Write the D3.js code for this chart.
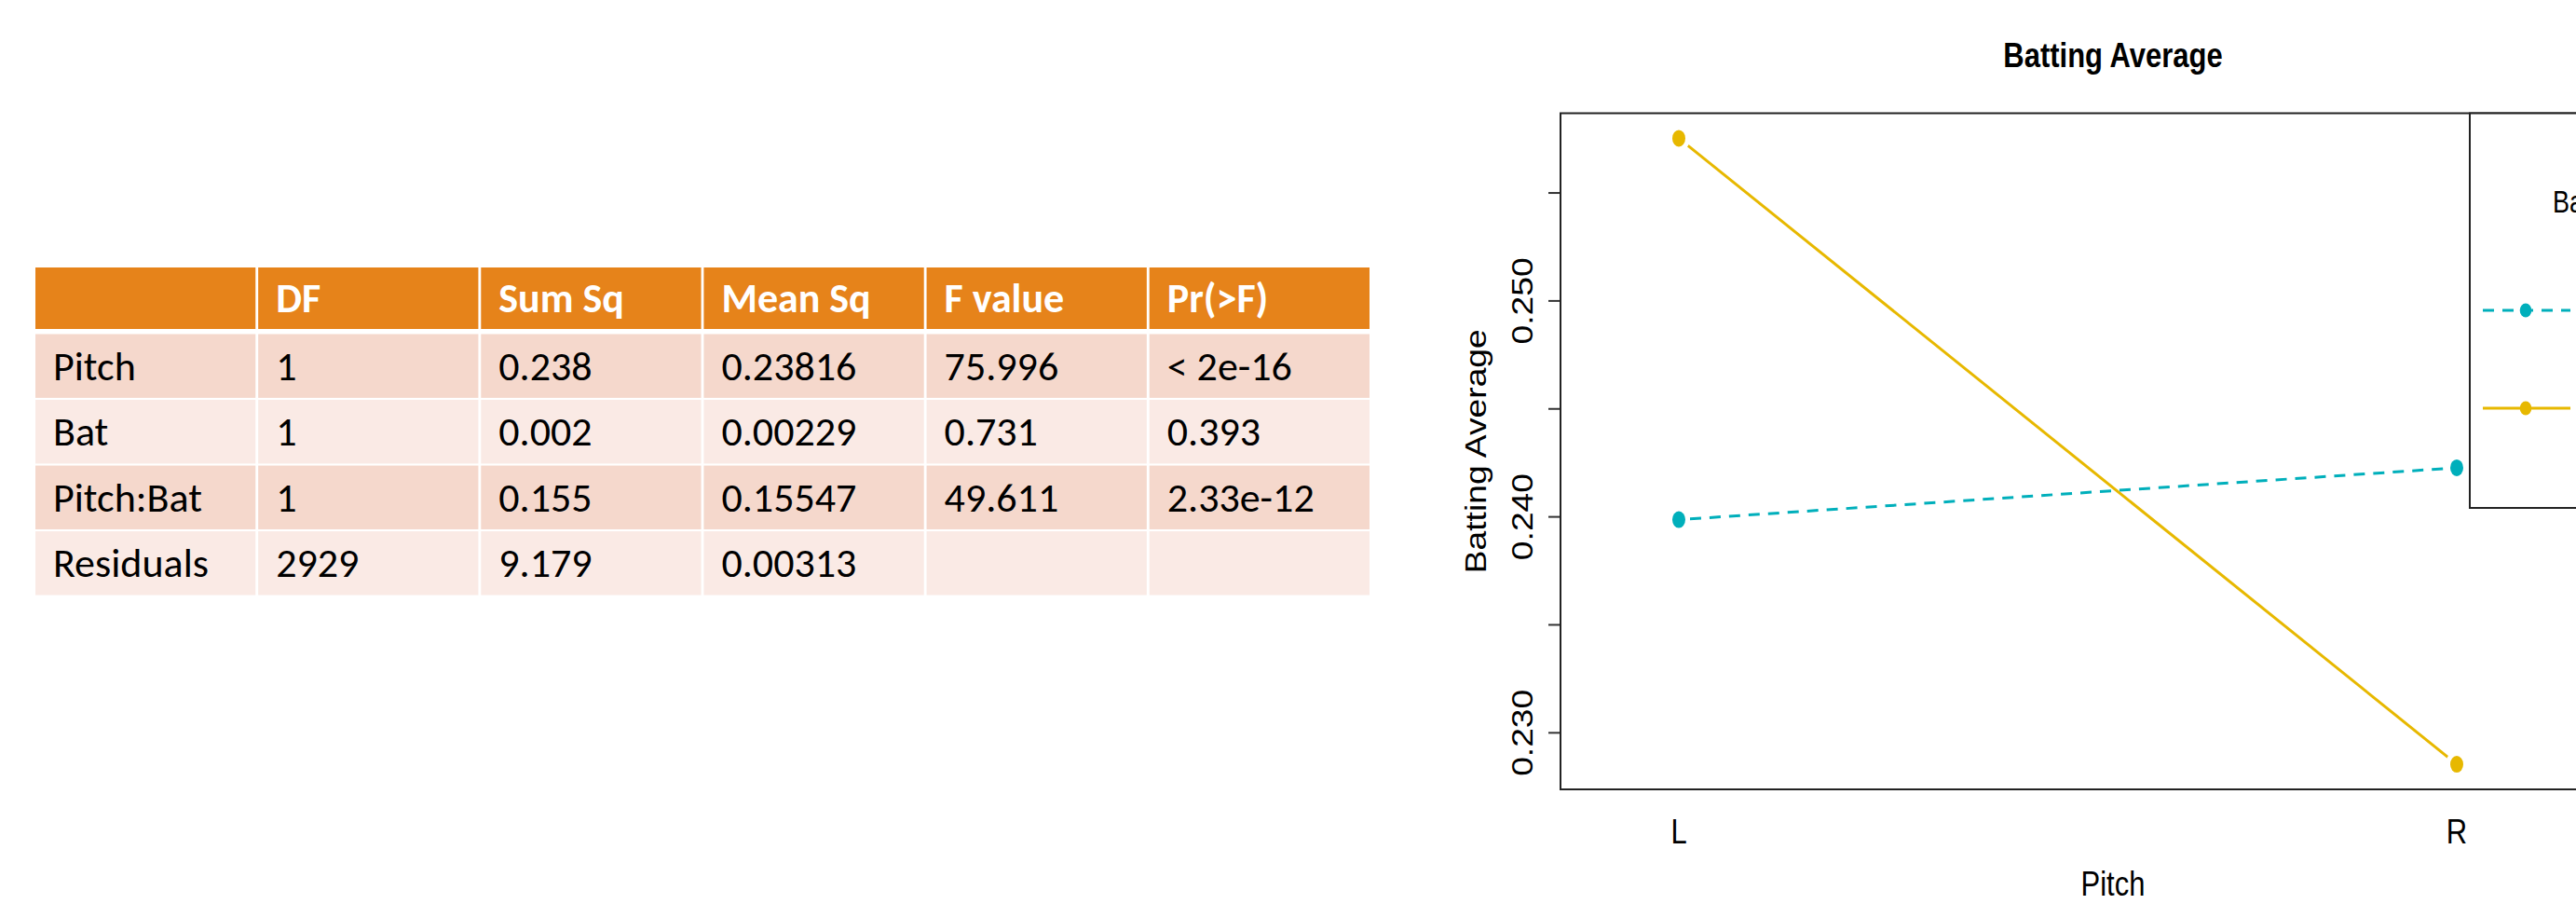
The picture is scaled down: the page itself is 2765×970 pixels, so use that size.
<!DOCTYPE html>
<html>
<head>
<meta charset="utf-8">
<script src="https://cdn.jsdelivr.net/npm/d3@7"></script>
<style>
  html, body { margin: 0; padding: 0; background: #fff; }
  svg { display: block; }
</style>
</head>
<body>
<svg id="chart"></svg>
<script>
var width = 2765;
var height = 970;

// anova table
var columns = ["", "DF", "Sum Sq", "Mean Sq", "F value", "Pr(>F)"];
var terms = ["Pitch", "Bat", "Pitch:Bat", "Residuals"];
var dfValues = ["1", "1", "1", "2929"];
var sumSq = ["0.238", "0.002", "0.155", "9.179"];
var meanSq = ["0.23816", "0.00229", "0.15547", "0.00313"];
var fValues = ["75.996", "0.731", "49.611", ""];
var pValues = ["< 2e-16", "0.393", "2.33e-12", ""];

// interaction plot (mean batting average by pitcher hand, one trace per batter hand)
var pitchLevels = ["L", "R"];
var batLevels = ["L", "R"];
var batL = [0.23985, 0.24225];
var batR = [0.25751, 0.22852];
var yTicks = [0.230, 0.235, 0.240, 0.245, 0.250, 0.255];
var yTickLabels = ["0.230", "", "0.240", "", "0.250", ""];

var traceColors = ["#00AFBB", "#E7B800"];
var traceDash = ["12,9", null];

var tableFont = "Carlito, Calibri, 'Liberation Sans Narrow', 'Open Sans', sans-serif";
var plotFont = "'Liberation Sans', Arial, Helvetica, sans-serif";

var svg = d3.select("#chart")
    .attr("width", width)
    .attr("height", height);

svg.append("rect")
    .attr("width", width)
    .attr("height", height)
    .attr("fill", "#fff");

// ---------- table ----------
var rows = terms.map(function(t, i) {
  return [t, dfValues[i], sumSq[i], meanSq[i], fValues[i], pValues[i]];
});

var colScale = d3.scaleBand()
    .domain(d3.range(columns.length))
    .range([38, 1470])
    .paddingInner(0.012);

var rowScale = d3.scaleBand()
    .domain(d3.range(terms.length))
    .range([358.5, 638.5])
    .paddingInner(0.03);

var headerTop = 287, headerBottom = 353;
var textPad = 19;

var table = svg.append("g").attr("class", "anova");

var header = table.append("g");
header.selectAll("rect")
  .data(columns)
  .enter()
  .append("rect")
    .attr("x", (d, i) => colScale(i))
    .attr("y", headerTop)
    .attr("width", colScale.bandwidth())
    .attr("height", headerBottom - headerTop)
    .attr("fill", "#E6831A");

header.selectAll("text")
  .data(columns)
  .enter()
  .append("text")
    .attr("x", (d, i) => colScale(i) + textPad)
    .attr("y", (headerTop + headerBottom) / 2 + 15)
    .style("font-family", tableFont)
    .style("font-size", "44px")
    .style("font-weight", "bold")
    .attr("fill", "#fff")
    .text(d => d);

var body = table.selectAll("g.row")
  .data(rows)
  .enter()
  .append("g")
    .attr("class", "row")
    .attr("transform", (d, i) => "translate(0," + rowScale(i) + ")");

body.selectAll("rect")
  .data((d, i) => d.map(v => ({v: v, r: i})))
  .enter()
  .append("rect")
    .attr("x", (d, j) => colScale(j))
    .attr("width", colScale.bandwidth())
    .attr("height", rowScale.bandwidth())
    .attr("fill", d => d.r % 2 === 0 ? "#F5D8CC" : "#FAEAE5");

body.selectAll("text")
  .data(d => d)
  .enter()
  .append("text")
    .attr("x", (d, j) => colScale(j) + textPad)
    .attr("y", rowScale.bandwidth() / 2 + 15)
    .style("font-family", tableFont)
    .style("font-size", "44px")
    .attr("fill", "#000")
    .text(d => d);

// ---------- interaction plot ----------
var x = d3.scaleLinear()
    .domain([1, 2])
    .range([1802, 2637]);

var y = d3.scaleLinear()
    .domain([0.22736, 0.25867])
    .range([847, 121.5]);

var plotLeft = 1675, plotRight = 2990;
var stretch = 1.2;   // the picture is squeezed a bit vertically

var plot = svg.append("g").attr("class", "plot");

// y axis ticks
var yAxis = d3.axisLeft(y)
    .tickValues(yTicks)
    .tickSize(13)
    .tickSizeOuter(0)
    .tickFormat((d, i) => yTickLabels[i]);

var yg = plot.append("g")
    .attr("transform", "translate(" + plotLeft + ",0)")
    .call(yAxis);

yg.select(".domain").remove();
yg.selectAll(".tick line")
    .attr("stroke", "#333")
    .attr("stroke-width", 2);
yg.selectAll(".tick text")
    .attr("x", null)
    .attr("dy", null)
    .attr("transform", "translate(-30,0) rotate(-90) scale(" + stretch + ",1)")
    .attr("text-anchor", "middle")
    .attr("fill", "#000")
    .style("font-family", plotFont)
    .style("font-size", "31px");

// x labels (no tick marks)
plot.selectAll("text.xlab")
  .data(pitchLevels)
  .enter()
  .append("text")
    .attr("class", "xlab")
    .attr("transform", (d, i) => "translate(" + x(i + 1) + ",905) scale(1," + stretch + ")")
    .attr("text-anchor", "middle")
    .style("font-family", plotFont)
    .style("font-size", "31px")
    .text(d => d);

// traces
var traces = [batL, batR];
var line = d3.line()
    .x((d, i) => x(i + 1))
    .y(d => y(d));

plot.selectAll("path.trace")
  .data(traces)
  .enter()
  .append("path")
    .attr("class", "trace")
    .attr("d", line)
    .attr("fill", "none")
    .attr("stroke", (d, i) => traceColors[i])
    .attr("stroke-width", 3)
    .attr("stroke-dasharray", (d, i) => traceDash[i])
    .attr("stroke-dashoffset", 9);

var pts = [];
traces.forEach(function(t, s) {
  t.forEach(function(v, i) { pts.push({s: s, i: i, v: v}); });
});

// R leaves a little gap between line and point
plot.selectAll("ellipse.gap")
  .data(pts)
  .enter()
  .append("ellipse")
    .attr("class", "gap")
    .attr("cx", d => x(d.i + 1))
    .attr("cy", d => y(d.v))
    .attr("rx", 12)
    .attr("ry", 14)
    .attr("fill", "#fff");

plot.selectAll("ellipse.pt")
  .data(pts)
  .enter()
  .append("ellipse")
    .attr("class", "pt")
    .attr("cx", d => x(d.i + 1))
    .attr("cy", d => y(d.v))
    .attr("rx", 7)
    .attr("ry", 9)
    .attr("fill", d => traceColors[d.s]);

// plot frame
plot.append("rect")
    .attr("x", plotLeft)
    .attr("y", y.range()[1])
    .attr("width", plotRight - plotLeft)
    .attr("height", y.range()[0] - y.range()[1])
    .attr("fill", "none")
    .attr("stroke", "#222")
    .attr("stroke-width", 2);

// legend (runs off the right edge, as in the original)
var legendLeft = 2651, legendBottom = 545;
var legend = plot.append("g");
legend.append("rect")
    .attr("x", legendLeft)
    .attr("y", y.range()[1])
    .attr("width", plotRight - legendLeft)
    .attr("height", legendBottom - y.range()[1])
    .attr("fill", "#fff")
    .attr("stroke", "#222")
    .attr("stroke-width", 2);

legend.append("text")
    .attr("transform", "translate(2740,228) scale(1," + stretch + ")")
    .style("font-family", plotFont)
    .style("font-size", "27px")
    .text("Bat");

var legendRows = [333, 438];
var entry = legend.selectAll("g.entry")
  .data(batLevels)
  .enter()
  .append("g")
    .attr("class", "entry")
    .attr("transform", (d, i) => "translate(0," + legendRows[i] + ")");

entry.append("line")
    .attr("x1", 2665)
    .attr("x2", 2759)
    .attr("stroke", (d, i) => traceColors[i])
    .attr("stroke-width", 3)
    .attr("stroke-dasharray", (d, i) => traceDash[i]);

entry.append("ellipse")
    .attr("cx", 2711)
    .attr("rx", 6.3)
    .attr("ry", 7.5)
    .attr("fill", (d, i) => traceColors[i]);

// titles
plot.append("text")
    .attr("transform", "translate(2268,72) scale(1," + stretch + ")")
    .attr("text-anchor", "middle")
    .style("font-family", plotFont)
    .style("font-size", "31px")
    .style("font-weight", "bold")
    .text("Batting Average");

plot.append("text")
    .attr("transform", "translate(2268,961) scale(1," + stretch + ")")
    .attr("text-anchor", "middle")
    .style("font-family", plotFont)
    .style("font-size", "31px")
    .text("Pitch");

plot.append("text")
    .attr("transform", "translate(1595," + ((y.range()[0] + y.range()[1]) / 2) + ") rotate(-90) scale(" + stretch + ",1)")
    .attr("text-anchor", "middle")
    .style("font-family", plotFont)
    .style("font-size", "31px")
    .text("Batting Average");
</script>
</body>
</html>
